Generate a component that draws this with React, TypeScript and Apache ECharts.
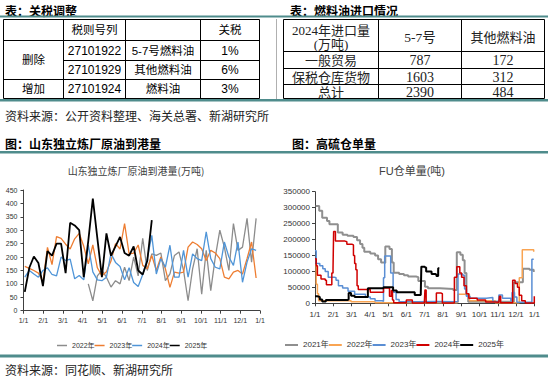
import React, { useEffect, useRef } from 'react';
import * as echarts from 'echarts';

// ---------------- data ----------------
const taxTitle = '表：关税调整';
const taxHeader = ['', '税则号列', '', '关税'];
const taxGroups = ['删除', '增加'];
const taxCodes = ['27101922', '27101929', '27101924'];
const taxNames = ['5-7号燃料油', '其他燃料油', '燃料油'];
const taxRates = ['1%', '6%', '3%'];
const taxSource = '资料来源：公开资料整理、海关总署、新湖研究所';

const importTitle = '表：燃料油进口情况';
const importHeader = ['2024年进口量', '(万吨)'];
const importCols = ['5-7号', '其他燃料油'];
const importRowNames = ['一般贸易', '保税仓库货物', '总计'];
const import57 = [787, 1603, 2390];
const importOther = [172, 312, 484];

const arrivalSection = '图：山东独立炼厂原油到港量';
const arrivalTitle = '山东独立炼厂原油到港量(万吨)';
const fuSection = '图：高硫仓单量';
const fuTitle = 'FU仓单量(吨)';
const chartSource = '资料来源：同花顺、新湖研究所';

const monthLabels = ['1/1', '2/1', '3/1', '4/1', '5/1', '6/1', '7/1', '8/1', '9/1', '10/1', '11/1', '12/1', '1/1'];

// Shandong arrivals, weekly (万吨)
const arrivalNames = ['2022年', '2023年', '2024年', '2025年'];
const arrival2022 = [
  null, null, null, null, null, null, null, null, null, null, null, null, null, null,
  100, 37, 130, 150, 125, 88, 112, 100, 162, 112, 200, 130, 270, 150, 212, 206, 215, 112, 137, 206,
  219, 150, 37, 156, 231, 62, 225, 75, 200, 300, 237, 150, 325, 225, 237, 344, 181, 344,
];
const arrival2023 = [
  165, 158, 150, 140, 108, 236, 172, 276, 270, 248, 230, 268, 288, 240, 175, 245, 160, 130, 145, 185,
  250, 230, 325, 212, 215, 245, 169, 156, 206, 150, 200, 156, 87, 144, 140, 144, 237, 256, 247, 231,
  187, 225, 215, 194, 125, 119, 144, 150, 137, 194, 256, 122,
];
const arrival2024 = [
  125, 150, 137, 125, 150, 160, 135, 130, 200, 187, 192, 119, 131, 115, 245, 145, 115, 112, 125, 213,
  180, 165, 115, 160, 105, 90, 135, 194, 281, 137, 194, 162, 244, 125, 125, 225, 125, 212, 194, 187,
  294, 194, 162, 156, 256, 200, 169, 256, 106, 181, 231, 225,
];
const arrival2025 = [
  70, 160, 202, 178, 92, 222, 205, 250, 250, 140, 328, 318, 300, 125, 260, 418, 270, 125, 288, 205,
  240, 275, 215, 205, 240, 150, 135, 185, 338,
];

// FU warehouse receipts: [day of year, tonnes] change points
const fuNames = ['2021年', '2022年', '2023年', '2024年', '2025年'];
const fu2021 = [
  [1, 305000], [7, 290000], [12, 268000], [20, 258000], [24, 248000], [36, 248000], [38, 222000],
  [46, 215000], [54, 212000], [64, 208000], [70, 198000], [75, 186000], [79, 174000], [82, 162000],
  [92, 156000], [100, 150000], [105, 138000], [110, 128000], [115, 126000], [117, 178000],
  [124, 170000], [128, 128000], [131, 96000], [140, 92000], [148, 88000], [155, 84000], [168, 82000],
  [172, 70000], [181, 70000], [183, 52000], [188, 47000], [208, 45000], [230, 42000], [236, 160000],
  [242, 152000], [246, 135000], [249, 95000], [252, 26000], [255, 5000], [329, 5000], [331, 66000],
  [344, 66000], [346, 108000], [357, 105000], [364, 98000],
];
const fu2022 = [
  [0, 120000], [2, 60000], [4, 30000], [6, 8000], [60, 5000], [100, 2000], [236, 3000], [238, 28000],
  [255, 28000], [257, 8000], [300, 2000], [338, 2000], [340, 80000], [345, 168000], [362, 168000],
  [364, 162000],
];
const fu2023 = [
  [0, 165000], [2, 125000], [8, 118000], [13, 108000], [17, 100000], [22, 82000], [32, 80000],
  [35, 72000], [39, 55000], [46, 48000], [55, 38000], [66, 28000], [84, 20000], [92, 14000],
  [100, 8000], [112, 6000], [114, 80000], [116, 148000], [124, 148000], [126, 95000], [130, 35000],
  [135, 12000], [140, 5000], [170, 6000], [200, 5000], [236, 5000], [238, 92000], [246, 88000],
  [249, 45000], [252, 22000], [258, 16000], [285, 18000], [296, 6000], [304, 4000], [306, 26000],
  [312, 16000], [326, 8000], [328, 34000], [332, 20000], [336, 3000], [359, 2000], [361, 138000],
  [364, 136000],
];
const fu2024 = [
  [0, 140000], [2, 118000], [4, 88000], [10, 76000], [17, 72000], [19, 58000], [26, 58000],
  [28, 95000], [30, 110000], [31, 225000], [34, 195000], [50, 193000], [53, 185000], [62, 183000],
  [64, 150000], [66, 125000], [68, 105000], [70, 55000], [72, 43000], [88, 43000], [92, 35000],
  [112, 35000], [114, 48000], [122, 48000], [124, 22000], [127, 40000], [129, 10000], [131, 2000],
  [150, 1000], [152, 10000], [160, 10000], [162, 1000], [182, 1000], [183, 42000], [185, 2000],
  [200, 2000], [202, 32000], [210, 30000], [212, 1000], [230, 2000], [232, 82000], [236, 115000],
  [241, 95000], [244, 82000], [248, 55000], [252, 30000], [256, 16000], [270, 10000], [284, 4000],
  [300, 3000], [306, 2000], [307, 22000], [309, 2000], [327, 2000], [329, 72000], [333, 62000],
  [337, 50000], [340, 25000], [344, 8000], [350, 1000], [362, 1000], [365, 22000],
];
const fu2025 = [
  [0, 22000], [4, 20000], [8, 12000], [12, 6000], [18, 10000], [30, 10000], [54, 12000], [56, 32000],
  [60, 24000], [66, 20000], [86, 20000], [88, 47000], [112, 47000], [114, 50000], [128, 50000],
  [130, 40000], [136, 35000], [166, 26000], [176, 26000], [177, 115000], [183, 112000],
  [185, 100000], [192, 100000], [194, 92000], [200, 90000], [202, 86000], [205, 110000],
  [207, 110000],
];

// ---------------- helpers ----------------
const TEAL = '#4f8c8c';
const SANS = '"Liberation Sans", Arial, "Noto Sans CJK SC", sans-serif';
const SERIF = '"Liberation Serif", "Noto Sans CJK SC", serif';
const CJK = '"Noto Sans CJK SC", sans-serif';

const weekX = (i: number) => ((2 + 7 * i) * 12) / 365;
const weekPairs = (vals: (number | null)[]) =>
  vals.map((v, i) => (v == null ? null : [weekX(i), v])).filter((p) => p !== null);
const dayPairs = (pts: number[][]) => pts.map(([d, v]) => [(d * 12) / 365, v]);

const txt = (x: number, y: number, text: string, size: number, o: any = {}) => ({
  type: 'text',
  x,
  y,
  silent: true,
  style: {
    text,
    fontSize: size,
    fontFamily: o.family || SANS,
    fontWeight: o.weight || 'normal',
    fill: o.fill || '#000',
    align: o.align || 'center',
    verticalAlign: 'middle',
  },
});
const ln = (x1: number, y1: number, x2: number, y2: number, color = '#000', w = 1) => ({
  type: 'line',
  silent: true,
  shape: { x1, y1, x2, y2 },
  style: { stroke: color, lineWidth: w },
});
const band = (y: number, h: number) => ({
  type: 'rect',
  silent: true,
  shape: { x: 0, y, width: 548, height: h },
  style: { fill: TEAL },
});

function buildGraphic() {
  const g: any[] = [];
  // section titles and teal rules
  g.push(txt(5, 10, taxTitle, 12, { family: CJK, weight: 'bold', align: 'left' }));
  g.push(txt(290, 10, importTitle, 12, { family: CJK, weight: 'bold', align: 'left' }));
  g.push(band(15.5, 2));
  g.push(band(99, 2.5));
  g.push(txt(5, 115, taxSource, 12, { family: CJK, fill: '#222', align: 'left' }));
  g.push(txt(5, 143, arrivalSection, 12, { family: CJK, weight: 'bold', align: 'left' }));
  g.push(txt(292, 143, fuSection, 12, { family: CJK, weight: 'bold', align: 'left' }));
  g.push(band(151, 2.5));
  g.push(band(354.5, 3));
  g.push(txt(5, 369, chartSource, 12, { family: CJK, fill: '#222', align: 'left' }));
  g.push(ln(276.5, 19, 276.5, 99, '#b0b0b0', 1));

  // left table
  const lx = [3.5, 63.5, 125.5, 200.5, 259.5];
  lx.forEach((x) => g.push(ln(x, 19.5, x, 98.5)));
  [19.5, 40.5, 79.5, 98.5].forEach((y) => g.push(ln(3.5, y, 259.5, y)));
  g.push(ln(63.5, 60.5, 259.5, 60.5));
  const lc = [33.5, 94.5, 163, 230];
  taxHeader.forEach((h, i) => h && g.push(txt(lc[i], 30, h, 11.5)));
  const rowY = [50.5, 70, 89];
  g.push(txt(lc[0], 60, taxGroups[0], 11.5));
  g.push(txt(lc[0], rowY[2], taxGroups[1], 11.5));
  taxCodes.forEach((c, i) => {
    g.push(txt(lc[1], rowY[i], c, 12));
    g.push(txt(lc[2], rowY[i], taxNames[i], 11.5));
    g.push(txt(lc[3], rowY[i], taxRates[i], 12));
  });

  // right table
  const rx = [283.5, 378.5, 461.5, 544.5];
  rx.forEach((x) => g.push(ln(x, 19.5, x, 98.5)));
  [19.5, 51.5, 68.5, 84.5, 98.5].forEach((y) => g.push(ln(283.5, y, 544.5, y)));
  const rc = [331, 420, 503];
  g.push(txt(rc[0], 30.5, importHeader[0], 13, { family: SERIF, fill: '#222' }));
  g.push(txt(rc[0], 44, importHeader[1], 13, { family: SERIF, fill: '#222' }));
  g.push(txt(rc[1], 37, importCols[0], 13.5, { family: SERIF, fill: '#222' }));
  g.push(txt(rc[2], 37, importCols[1], 13, { family: SERIF, fill: '#222' }));
  const ry = [60.5, 77, 92.5];
  importRowNames.forEach((n, i) => {
    g.push(txt(rc[0], ry[i], n, 13, { family: SERIF, fill: '#222' }));
    g.push(txt(rc[1], ry[i], String(import57[i]), 14, { family: SERIF, fill: '#222' }));
    g.push(txt(rc[2], ry[i], String(importOther[i]), 14, { family: SERIF, fill: '#222' }));
  });

  // chart titles
  g.push(txt(136, 170, arrivalTitle, 10, { family: CJK, fill: '#404040' }));
  g.push(txt(412, 171, fuTitle, 11, { family: SANS, fill: '#404040' }));
  return g;
}

const AX = '#404040';
const xAxisBase = (gridIndex: number, fs: number, margin: number) => ({
  type: 'value',
  gridIndex,
  min: 0,
  max: 12,
  interval: 1,
  axisLine: { show: true, lineStyle: { color: AX, width: 1 } },
  axisTick: { show: true, length: 3, lineStyle: { color: AX } },
  splitLine: { show: false },
  axisLabel: {
    fontSize: fs,
    color: '#333',
    fontFamily: SANS,
    margin,
    formatter: (v: number) => monthLabels[Math.round(v)],
  },
});
const yAxisBase = (gridIndex: number, max: number, interval: number, fs: number, margin: number) => ({
  type: 'value',
  gridIndex,
  min: 0,
  max,
  interval,
  axisLine: { show: true, lineStyle: { color: AX, width: 1 } },
  axisTick: { show: true, length: 3, lineStyle: { color: AX } },
  splitLine: { show: false },
  axisLabel: {
    fontSize: fs,
    color: '#333',
    fontFamily: SANS,
    margin,
    formatter: (v: number) => String(v),
  },
});

const leftColors = ['#8c8c8c', '#ee7d31', '#4f95d8', '#000000'];
const leftWidths = [1.3, 1.3, 1.3, 1.8];
const rightColors = ['#8f8f8f', '#f9a452', '#5a8ed4', '#d00000', '#000000'];
const rightWidths = [2, 1.5, 1.5, 1.5, 2];

export default function App() {
  const ref = useRef<HTMLDivElement>(null);
  useEffect(() => {
    document.body.style.margin = '0';
    const chart = echarts.init(ref.current!, null, { renderer: 'svg' });
    const leftData = [arrival2022, arrival2023, arrival2024, arrival2025];
    const rightData = [fu2021, fu2022, fu2023, fu2024, fu2025];
    const series: any[] = [];
    leftData.forEach((d, i) =>
      series.push({
        name: arrivalNames[i],
        type: 'line',
        xAxisIndex: 0,
        yAxisIndex: 0,
        symbol: 'none',
        silent: true,
        data: weekPairs(d),
        lineStyle: { color: leftColors[i], width: leftWidths[i] },
        itemStyle: { color: leftColors[i] },
      })
    );
    rightData.forEach((d, i) =>
      series.push({
        name: 'FU' + fuNames[i],
        type: 'line',
        xAxisIndex: 1,
        yAxisIndex: 1,
        symbol: 'none',
        silent: true,
        step: 'end',
        data: dayPairs(d),
        lineStyle: { color: rightColors[i], width: rightWidths[i] },
        itemStyle: { color: rightColors[i] },
      })
    );
    chart.setOption({
      animation: false,
      backgroundColor: '#fff',
      grid: [
        { left: 23.5, top: 190, width: 236.5, height: 120.7 },
        { left: 315, top: 191.7, width: 219.3, height: 111.6 },
      ],
      xAxis: [xAxisBase(0, 7, 6), xAxisBase(1, 8, 7)],
      yAxis: [yAxisBase(0, 450, 50, 7, 6), yAxisBase(1, 350000, 50000, 8, 5)],
      legend: [
        {
          data: arrivalNames,
          left: 52,
          top: 337,
          icon: 'rect',
          itemWidth: 10,
          itemHeight: 1.5,
          itemGap: 0,
          textStyle: { fontSize: 7, color: '#333', fontFamily: SANS },
          selectedMode: false,
        },
        {
          data: fuNames.map((n) => 'FU' + n),
          left: 280,
          top: 336,
          icon: 'rect',
          itemWidth: 13,
          itemHeight: 2,
          itemGap: 0,
          formatter: (n: string) => n.replace('FU', ''),
          textStyle: { fontSize: 8, color: '#333', fontFamily: SANS },
          selectedMode: false,
        },
      ],
      graphic: buildGraphic(),
      series,
    });
    return () => chart.dispose();
  }, []);
  return (
    <div
      ref={ref}
      style={{ position: 'absolute', left: 0, top: 0, width: 550, height: 376, background: '#fff' }}
    />
  );
}
